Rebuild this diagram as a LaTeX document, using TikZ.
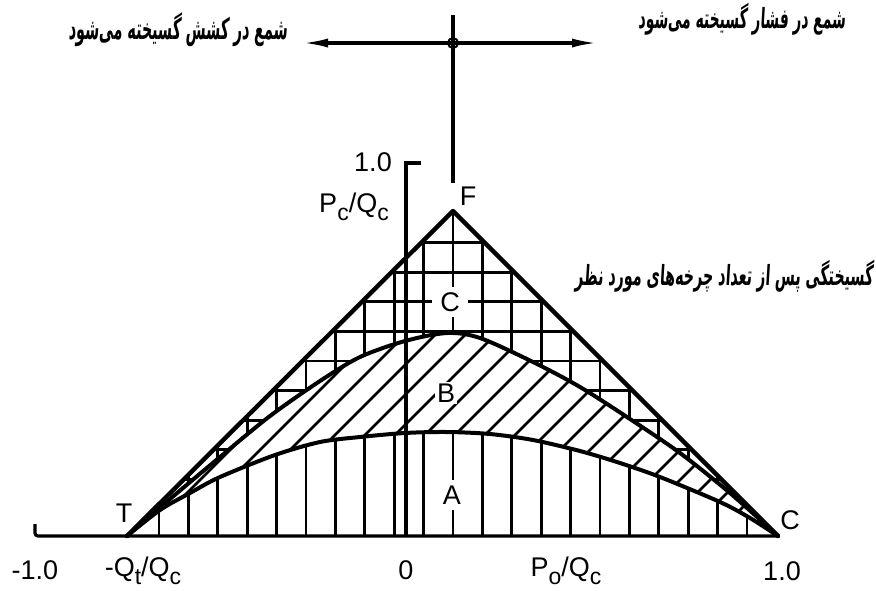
\documentclass[tikz,border=0pt]{standalone}
\usepackage{fontspec}
\setmainfont{Liberation Sans}
\newfontfamily\arabicfont[Script=Arabic,FakeSlant=0.12]{DejaVu Sans}
\TeXXeTstate=1
\usetikzlibrary{arrows.meta}
\newcommand{\sbs}[1]{\raisebox{-8pt}{\fontsize{23}{23}\selectfont #1}}
\begin{document}
\begin{tikzpicture}[x=1pt,y=-1pt,
  lbl/.style={font=\fontsize{27}{29}\selectfont, inner sep=1pt},
  fa/.style={inner sep=0pt},
  heavy/.style={line width=4.4pt, line join=round, line cap=round},
  curveline/.style={line width=4pt, line join=round, line cap=round},
  gridline/.style={line width=2.8pt},
  hatchline/.style={line width=2.6pt},
  axisline/.style={line width=3.2pt},
  tip/.style={-{Latex[length=26pt,width=9pt]}}]
\useasboundingbox (0,0) rectangle (876,590);

% key points
\coordinate (T) at (127,536);
\coordinate (F) at (453,211);
\coordinate (C) at (778,536);
\coordinate (O) at (406,536);
\coordinate (Ytop) at (406,163);
\coordinate (Ytick) at (421,163);
\coordinate (Hook) at (35,524);
\coordinate (HookC) at (35,536);
\coordinate (Vtop) at (453,15);
\coordinate (Vbot) at (453,183);
\coordinate (Hl) at (302,43);
\coordinate (Hr) at (598,43);

% region C: grid
\begin{scope}
\clip (T) -- (F) -- (C) -- plot[smooth] coordinates {(778,536) (730,493) (680,453) (630,419) (580,387) (533,362) (480,338) (447,333) (405,341) (360,357) (320,381) (270,416) (220,457) (170,499) (127,536)} -- cycle;
\foreach \k in {-11,...,11} \draw[gridline] (453+29.4*\k,150) -- (453+29.4*\k,560);
\foreach \k in {0,...,11} \draw[gridline] (100,213+29.6*\k) -- (800,213+29.6*\k);
\end{scope}

% region B: hatching
\begin{scope}
\clip plot[smooth] coordinates {(127,536) (160,510) (190,493) (220,477) (275,455) (320,442) (360,437) (405,433) (447,432) (490,434) (533,440) (580,451) (620,463) (660,477) (720,502) (750,518) (778,536)} -- plot[smooth] coordinates {(778,536) (730,493) (680,453) (630,419) (580,387) (533,362) (480,338) (447,333) (405,341) (360,357) (320,381) (270,416) (220,457) (170,499) (127,536)} -- cycle;
\foreach \x in {-120,-90,...,800} \draw[hatchline] (\x,560) -- ++(340,-340);
\end{scope}

% region A: vertical lines
\begin{scope}
\clip plot[smooth] coordinates {(127,536) (160,510) (190,493) (220,477) (275,455) (320,442) (360,437) (405,433) (447,432) (490,434) (533,440) (580,451) (620,463) (660,477) (720,502) (750,518) (778,536)} -- cycle;
\foreach \k in {-11,...,11} \draw[gridline] (453+29.4*\k,300) -- (453+29.4*\k,560);
\end{scope}

% axes
\draw[axisline] (Ytick) -- (Ytop) -- (O);
\draw[axisline, rounded corners=3pt] (Hook) -- (HookC) -- (C);

% curves
\draw[curveline] plot[smooth] coordinates {(127,536) (160,510) (190,493) (220,477) (275,455) (320,442) (360,437) (405,433) (447,432) (490,434) (533,440) (580,451) (620,463) (660,477) (720,502) (750,518) (778,536)};
\draw[curveline] plot[smooth] coordinates {(127,536) (170,499) (220,457) (270,416) (320,381) (360,357) (405,341) (447,333) (480,338) (533,362) (580,387) (630,419) (680,453) (730,493) (778,536)};

% triangle
\draw[heavy] (T) -- (F) -- (C);

% top cross
\draw[axisline] (Vtop) -- (Vbot);
\draw[axisline, tip] (453,43) -- (Hl);
\draw[axisline, tip] (453,43) -- (Hr);
\node[draw, circle, line width=2pt, minimum size=10pt, inner sep=0pt] (X) at (453,43) {};

% region labels
\node[lbl, fill=white, minimum width=36pt, minimum height=30pt] (lC) at (450,302) {C};
\node[lbl, fill=white, inner sep=2pt] (lB) at (446,393) {B};
\node[lbl, fill=white, minimum height=30pt, inner sep=2pt] (lA) at (452,495) {A};

% point labels
\node[lbl] (lF) at (468,196) {F};
\node[lbl] (lT) at (124,513) {T};
\node[lbl] (lCr) at (790,520) {C};

% axis labels
\node[lbl] (y1) at (373,162) {1.0};
\node[lbl] (ylab) at (354,207) {P\sbs{c}/Q\sbs{c}};
\node[lbl] (xm1) at (35,570) {-1.0};
\node[lbl] (xqt) at (143,571) {-Q\sbs{t}/Q\sbs{c}};
\node[lbl] (x0) at (406,570) {0};
\node[lbl] (xlab) at (566,571) {P\sbs{o}/Q\sbs{c}};
\node[lbl] (x1) at (782,571) {1.0};

% Persian annotations
\node[fa] (tl) at (178,30) {\resizebox*{219pt}{34pt}{\arabicfont\bfseries\beginR شمع در کشش گسیخته می‌شود\endR}};
\node[fa] (tr) at (742,19) {\resizebox*{207pt}{32pt}{\arabicfont\bfseries\beginR شمع در فشار گسیخته می‌شود\endR}};
\node[fa] (tm) at (724,276) {\resizebox*{298pt}{32pt}{\arabicfont\bfseries\beginR گسیختگی پس از تعداد چرخه‌های مورد نظر\endR}};
\end{tikzpicture}
\end{document}
